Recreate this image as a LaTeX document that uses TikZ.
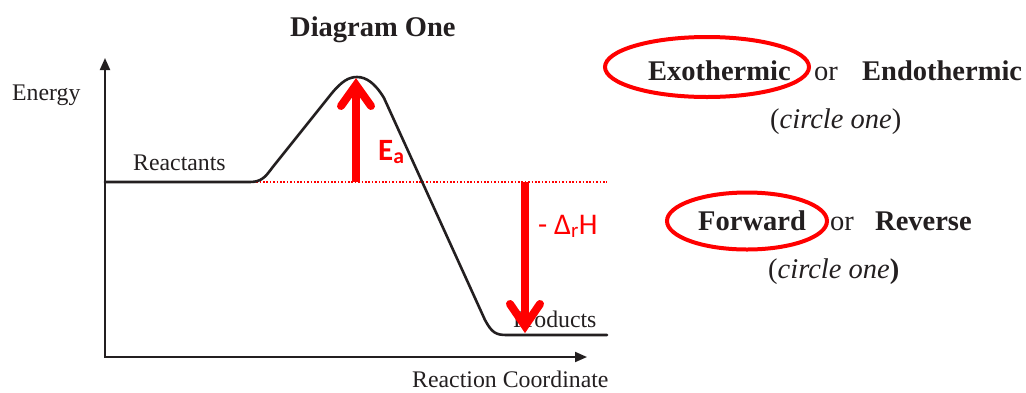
\documentclass[tikz,border=0pt]{standalone}
\usepackage{fontspec}
\setmainfont{Liberation Serif}
\newfontfamily\calib{Carlito}
\usetikzlibrary{arrows.meta}
\definecolor{ink}{HTML}{231F20}
\definecolor{rd}{HTML}{FF0000}
\tikzset{
  axis/.style={draw=ink, line width=2pt, -{Triangle[length=12pt,width=10pt]}},
  curve/.style={draw=ink, line width=2.6pt, line cap=round},
  lbl/.style={text=ink, inner sep=0pt, anchor=base west, font=\fontsize{23.8}{26}\selectfont},
  big/.style={text=ink, inner sep=0pt, anchor=base west, font=\fontsize{28.5}{32}\selectfont\bfseries},
  ital/.style={text=ink, inner sep=0pt, anchor=base west, font=\fontsize{28.5}{32}\selectfont},
  redarrow/.style={draw=rd, line width=8pt},
  redhead/.style={draw=rd, line width=8pt, line cap=round, line join=miter},
  ring/.style={draw=rd, line width=4pt},
  redlbl/.style={text=rd, inner sep=0pt, anchor=base west}
}
\begin{document}
\begin{tikzpicture}[x=1pt,y=-1pt]
\useasboundingbox (0,0) rectangle (1026,392);
% axes
\coordinate (o) at (105,357);
\coordinate (ytop) at (105,58);
\coordinate (xend) at (587,357);
\draw[axis] (o) -- (ytop);
\draw[axis] ([xshift=-1pt]o) -- (xend);
% texts
\node[big] (title) at (290,36) {Diagram One};
\node[lbl] (energy) at (12,100) {Energy};
\node[lbl] (react) at (133,170) {Reactants};
\node[lbl] (prod) at (513,327) {Products};
\node[lbl] (rc) at (412,387) {Reaction Coordinate};
% dotted reference
\coordinate (d1) at (178,182);
\coordinate (d2) at (607,182);
\draw[rd, line width=1.6pt, dash pattern=on 1.6pt off 1.8pt] (d1) -- (d2);
% energy curve
\draw[curve] (105,182) -- (250,182) .. controls (262,182) and (266,176) .. (272,168)
  -- (332,93) .. controls (342,81) and (349,77) .. (357,77)
  .. controls (366,77) and (375,83) .. (384,98)
  -- (485,320) .. controls (492,333) and (496,335) .. (507,335) -- (607,335);
% Ea arrow
\coordinate (eab) at (356,182);
\coordinate (eat) at (356,88);
\draw[redarrow] (eab) -- (eat);
\draw[redhead] (341,106) -- (356,85) -- (371,106);
\node[redlbl, font=\calib\fontsize{31}{34}\selectfont\bfseries] (ea) at (378,160) {E\textsubscript{a}};
% dH arrow
\coordinate (dht) at (525,182);
\coordinate (dhb) at (525,322);
\draw[redarrow] (dht) -- (dhb);
\draw[redhead] (510,304) -- (525,326) -- (540,304);
\node[redlbl, font=\calib\fontsize{30}{33}\selectfont] (dh) at (538,234) {- Δ\textsubscript{r}H};
% right side
\node[big] (exo) at (648,80) {Exothermic};
\node[ital] (or1) at (814,80) {or};
\node[big] (endo) at (862,80) {Endothermic};
\node[ital] (c1) at (770,128) {(\textit{circle one})};
\draw[ring] (707,67) ellipse [x radius=102, y radius=30];
\node[big] (fwd) at (698,230) {Forward};
\node[ital] (or2) at (830,230) {or};
\node[big] (rev) at (875,230) {Reverse};
\node[ital] (c2) at (768,278) {(\textit{circle one}\textbf{)}};
\draw[ring] (747,221) ellipse [x radius=80, y radius=28.5];
\end{tikzpicture}
\end{document}
